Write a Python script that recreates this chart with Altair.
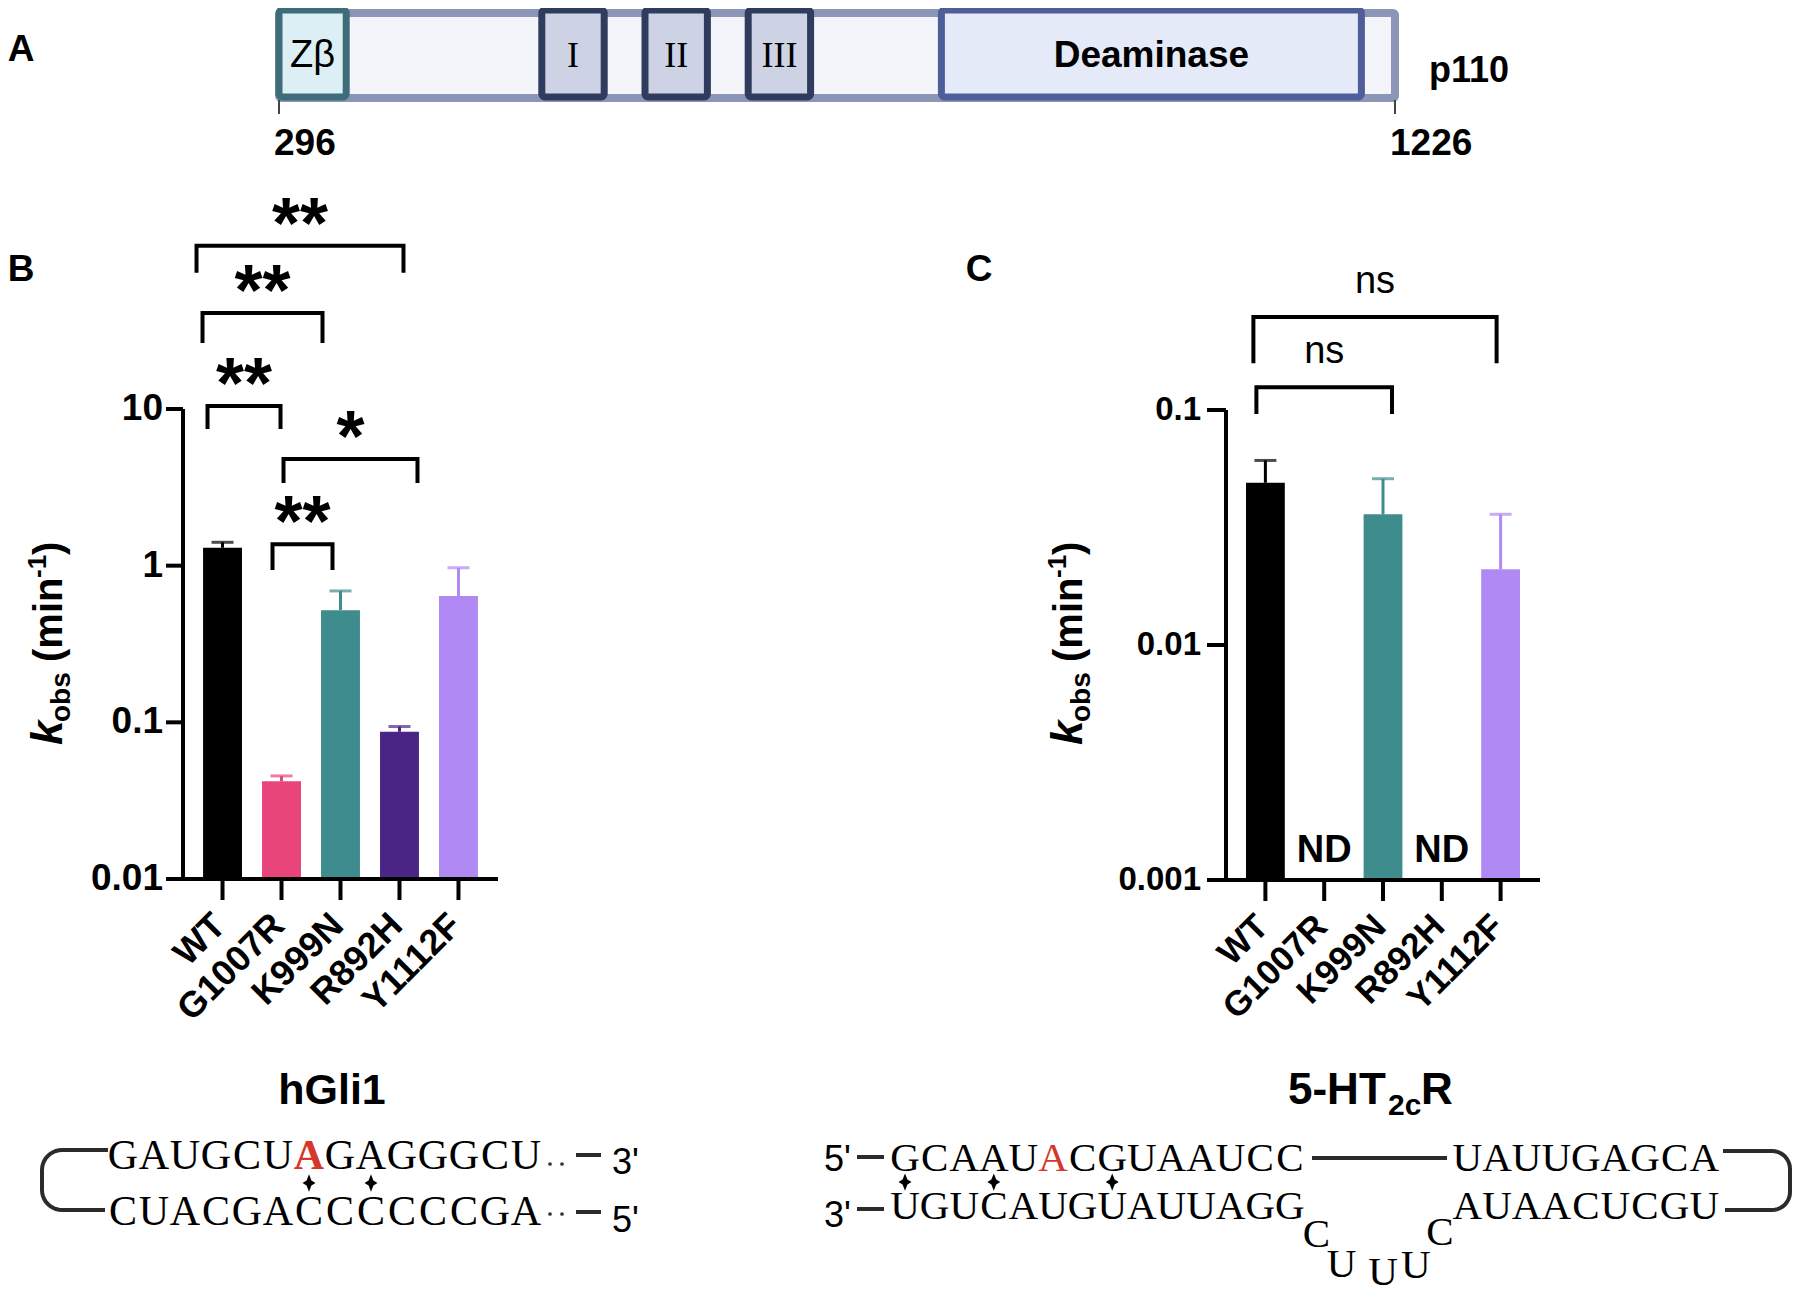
import math
import altair as alt
import pandas as pd

M = 8               # page margin
W, H = 1784, 1288   # drawing area
SANS = "Liberation Sans"
SERIF = "Liberation Serif"
RED = "#d5382b"

# ---------------- data ----------------
cats = ["WT", "G1007R", "K999N", "R892H", "Y1112F"]
palette = ["#000000", "#e8467a", "#3f8c8e", "#4b2585", "#b089f4"]

hgli_mean = [1.30, 0.042, 0.52, 0.087, 0.64]
hgli_upper = [1.41, 0.0455, 0.69, 0.094, 0.97]

htr_mean = [0.049, None, 0.036, None, 0.021]
htr_upper = [0.061, None, 0.051, None, 0.036]

b_ticks = [0.01, 0.1, 1, 10]
b_tick_labels = ["0.01", "0.1", "1", "10"]
c_ticks = [0.001, 0.01, 0.1]
c_tick_labels = ["0.001", "0.01", "0.1"]

# (group a, group b, bracket level, leg end, label)
b_brackets = [
    ("WT", "R892H", 110, 74, "**"),
    ("WT", "K999N", 41, 26.4, "**"),
    ("WT", "G1007R", 10.45, 7.45, "**"),
    ("G1007R", "R892H", 4.8, 3.37, "*"),
    ("G1007R", "K999N", 1.37, 0.94, "**"),
]
c_brackets = [
    ("WT", "Y1112F", 0.249, 0.158, "ns"),
    ("WT", "K999N", 0.125, 0.0962, "ns"),
]
# layout only: horizontal nudges (px) of each bracket's left / right end
b_nudge = [(-26, 4), (-20, -18), (-15, -1), (2, 18), (-9, -8)]
c_nudge = [(-12, -4), (-9, 9)]

protein_span = [296, 1226]
domain_names = ["Zβ", "I", "II", "III", "Deaminase"]
domain_start = [296, 515, 601, 687, 848]
domain_end = [352, 567, 653, 739, 1198]
domain_fill = ["#dbeff5", "#cdd3e5", "#cdd3e5", "#cdd3e5", "#e5eaf8"]
domain_stroke = ["#3e6d79", "#2f3c5d", "#2f3c5d", "#2f3c5d", "#4f5e99"]

gli_top = "GAUGCUAGAGGGCU"
gli_bot = "CUACGACCCCCCGA"
gli_red = 6
gli_pairs = [6, 8]

ht_top_left = "GCAAUACGUAAUCC"
ht_top_right = "UAUUGAGCA"
ht_bot_left = "UGUCAUGUAUUAGG"
ht_bot_right = "AUAACUCGU"
ht_right_col = 19
ht_red = 5
ht_pairs = [0, 3, 7]
ht_loop = "CUUUC"
ht_loop_pos = [(13.9, 1.58), (14.75, 2.21), (16.15, 2.38), (17.26, 2.23), (18.07, 1.54)]


def P(v):
    return v - M


one = pd.DataFrame({"a": [0]})


def label(text, x, y, size, weight="normal", style="normal", font=SANS,
          color="black", align="left", baseline="alphabetic", angle=None):
    kw = dict(text=text, fontSize=size, fontWeight=weight, fontStyle=style,
              font=font, color=color, align=align, baseline=baseline)
    if angle is not None:
        kw["angle"] = angle
    return alt.Chart(one).mark_text(**kw).encode(x=alt.value(P(x)), y=alt.value(P(y)))


PI, PO = 0.34, 0.34


def bar_panel(mean, upper, ticks, tick_labels, brackets, nudges, x0, x1, ybot, ytop,
              ylo, yhi, tick_fs, tick_len, lab_gap, xlab_fs, lab_size, lab_weight, lab_dy):
    n = len(cats)
    xs = alt.Scale(domain=cats, range=[P(x0), P(x1)], paddingInner=PI, paddingOuter=PO)
    ys = alt.Scale(type="log", domain=[ylo, yhi], range=[P(ybot), P(ytop)], nice=False)
    colr = alt.Color("cat:N", scale=alt.Scale(domain=cats, range=palette), legend=None)
    X = alt.X("cat:N", scale=xs, axis=None, sort=cats)

    df = pd.DataFrame({"cat": cats, "mean": mean, "upper": upper}).dropna()
    base = alt.Chart(df)
    bars = base.mark_bar().encode(
        x=X, y=alt.Y("mean:Q", scale=ys, axis=None), y2=alt.datum(ylo), color=colr)
    errs = base.mark_rule(strokeWidth=3).encode(
        x=X, y=alt.Y("mean:Q", scale=ys, axis=None), y2="upper:Q", color=colr)
    caps = base.mark_tick(size=22, thickness=3).encode(
        x=X, y=alt.Y("upper:Q", scale=ys, axis=None), color=colr)

    tdf = pd.DataFrame({"t": ticks, "lab": tick_labels})
    lim = pd.DataFrame({"lo": [ylo], "hi": [yhi]})
    yline = alt.Chart(lim).mark_rule(strokeWidth=4, color="black").encode(
        x=alt.value(P(x0)), y=alt.Y("lo:Q", scale=ys, axis=None), y2="hi:Q")
    yt = alt.Chart(tdf).mark_rule(strokeWidth=4, color="black").encode(
        x=alt.value(P(x0 - tick_len)), x2=alt.value(P(x0)), y=alt.Y("t:Q", scale=ys, axis=None))
    ylab = alt.Chart(tdf).mark_text(align="right", baseline="middle", font=SANS,
                                    fontSize=tick_fs, fontWeight="bold").encode(
        x=alt.value(P(x0 - lab_gap)), y=alt.Y("t:Q", scale=ys, axis=None), text="lab:N")
    xline = alt.Chart(lim).mark_rule(strokeWidth=4, color="black").encode(
        x=alt.value(P(x0 - tick_len)), x2=alt.value(P(x1)), y=alt.Y("lo:Q", scale=ys, axis=None))
    cdf = pd.DataFrame({"cat": cats})
    xt = alt.Chart(cdf).mark_rule(strokeWidth=4, color="black").encode(
        x=X, y=alt.value(P(ybot)), y2=alt.value(P(ybot + 21)))
    xlab = alt.Chart(cdf).mark_text(angle=315, align="right", baseline="middle", font=SANS,
                                    fontSize=xlab_fs, fontWeight="bold", dx=-4).encode(
        x=X, y=alt.value(P(ybot + 38)), text="cat:N")

    layers = [bars, errs, caps, yline, yt, ylab, xline, xt, xlab]
    nd = [c for c, m in zip(cats, mean) if m is None]
    if nd:
        ndf = pd.DataFrame({"cat": nd, "t": ["ND"] * len(nd)})
        layers.append(alt.Chart(ndf).mark_text(font=SANS, fontSize=38, fontWeight="bold",
                                               baseline="middle").encode(
            x=X, y=alt.value(P(ybot - 29)), text="t:N"))
    main = alt.layer(*layers)

    # significance brackets on a category-index scale aligned to band centres
    step = (x1 - x0) / (n - PI + 2 * PO)
    c0 = x0 + PO * step + (1 - PI) * step / 2
    cN = c0 + (n - 1) * step
    xi = alt.Scale(domain=[0, n - 1], range=[P(c0), P(cN)], nice=False, zero=False)
    rows, labs = [], []
    for k, ((a, b, top, leg, txt), (na, nb)) in enumerate(zip(brackets, nudges)):
        ia = cats.index(a) + na / step
        ib = cats.index(b) + nb / step
        for o, (xx, yy) in enumerate([(ia, leg), (ia, top), (ib, top), (ib, leg)]):
            rows.append(dict(id=k, o=o, xi=xx, y=yy))
        labs.append(dict(xi=(ia + ib) / 2, y=top, txt=txt))
    blines = alt.Chart(pd.DataFrame(rows)).mark_line(
        strokeWidth=4, color="black", strokeJoin="miter").encode(
        x=alt.X("xi:Q", scale=xi, axis=None), y=alt.Y("y:Q", scale=ys, axis=None),
        detail="id:N", order="o:Q")
    blabs = alt.Chart(pd.DataFrame(labs)).mark_text(
        align="center", baseline="alphabetic", dy=lab_dy, font=SANS,
        fontSize=lab_size, fontWeight=lab_weight).encode(
        x=alt.X("xi:Q", scale=xi, axis=None), y=alt.Y("y:Q", scale=ys, axis=None),
        text="txt:N")
    br = alt.layer(blines, blabs)
    return alt.layer(main, br).resolve_scale(x="independent")


def y_title(bx):
    return [
        label("k", bx, 745, 44, "bold", "italic", angle=270),
        label("obs", bx + 8, 722, 28, "bold", angle=270),
        label("(min", bx, 662, 40, "bold", angle=270),
        label("-1", bx - 16, 578, 26, "bold", angle=270),
        label(")", bx, 555, 40, "bold", angle=270),
    ]


panel_b = bar_panel(hgli_mean, hgli_upper, b_ticks, b_tick_labels, b_brackets, b_nudge,
                    183, 498, 879, 409, 0.01, 10, 37, 17, 20, 36, 72, "bold", 2)
panel_c = bar_panel(htr_mean, htr_upper, c_ticks, c_tick_labels, c_brackets, c_nudge,
                    1226, 1540, 880, 410, 0.001, 0.1, 33, 19, 25, 35, 38, "normal", -24)

# ---------------- panel A: domain map ----------------
rx = alt.Scale(domain=protein_span, range=[P(279), P(1395)], nice=False, zero=False)
span_df = pd.DataFrame({"s": [protein_span[0]], "e": [protein_span[1]]})
outer = alt.Chart(span_df).mark_rect(fill="#f4f5fb", stroke="#8b96b7", strokeWidth=8,
                                     cornerRadius=2).encode(
    x=alt.X("s:Q", scale=rx, axis=None), x2="e:Q", y=alt.value(P(13)), y2=alt.value(P(98)))
dom_df = pd.DataFrame({"name": domain_names, "s": domain_start, "e": domain_end})
dom_df["mid"] = (dom_df["s"] + dom_df["e"]) / 2
boxes = alt.Chart(dom_df).mark_rect(strokeWidth=7, cornerRadius=3).encode(
    x=alt.X("s:Q", scale=rx, axis=None), x2="e:Q", y=alt.value(P(10)), y2=alt.value(P(97)),
    fill=alt.Fill("name:N", scale=alt.Scale(domain=domain_names, range=domain_fill), legend=None),
    stroke=alt.Stroke("name:N", scale=alt.Scale(domain=domain_names, range=domain_stroke), legend=None))
txt_z = alt.Chart(dom_df[dom_df.name == "Zβ"]).mark_text(font=SANS, fontSize=38, baseline="middle").encode(
    x=alt.X("mid:Q", scale=rx, axis=None), y=alt.value(P(56)), text="name:N")
txt_r = alt.Chart(dom_df[dom_df.name.isin(["I", "II", "III"])]).mark_text(
    font=SERIF, fontSize=36, baseline="middle").encode(
    x=alt.X("mid:Q", scale=rx, axis=None), y=alt.value(P(56)), text="name:N")
txt_d = alt.Chart(dom_df[dom_df.name == "Deaminase"]).mark_text(
    font=SANS, fontSize=37, fontWeight="bold", baseline="middle").encode(
    x=alt.X("mid:Q", scale=rx, axis=None), y=alt.value(P(56)), text="name:N")
end_df = pd.DataFrame({"r": protein_span, "lab": [str(v) for v in protein_span]})
end_ticks = alt.Chart(end_df).mark_rule(strokeWidth=2, color="#444").encode(
    x=alt.X("r:Q", scale=rx, axis=None), y=alt.value(P(100)), y2=alt.value(P(114)))
end_labs = alt.Chart(end_df).mark_text(font=SANS, fontSize=37, fontWeight="bold",
                                       align="left", dx=-5).encode(
    x=alt.X("r:Q", scale=rx, axis=None), y=alt.value(P(144)), text="lab:N")
panel_a = alt.layer(outer, boxes, txt_z, txt_r, txt_d, end_ticks, end_labs)


# ---------------- RNA diagrams ----------------
def letters_df(seq, row, start_col=0, red=None):
    return pd.DataFrame({"col": [start_col + i for i in range(len(seq))],
                         "row": [row] * len(seq), "ch": list(seq),
                         "red": [(i == red) for i in range(len(seq))]})


STAR = "M0,-1L0.28,-0.28L0.75,0L0.28,0.28L0,1L-0.28,0.28L-0.75,0L-0.28,-0.28Z"


def seq_group(df, pairs, pair_row, xdom, xrng, yrng, fs, red_weight):
    sx = alt.Scale(domain=xdom, range=[P(xrng[0]), P(xrng[1])], nice=False, zero=False)
    sy = alt.Scale(domain=[0, 1], range=[P(yrng[0]), P(yrng[1])], nice=False, zero=False)
    X = alt.X("col:Q", scale=sx, axis=None)
    Y = alt.Y("row:Q", scale=sy, axis=None)
    txt = alt.Chart(df[~df.red]).mark_text(font=SERIF, fontSize=fs, align="center",
                                           baseline="alphabetic", color="black").encode(
        x=X, y=Y, text="ch:N")
    rtxt = alt.Chart(df[df.red]).mark_text(font=SERIF, fontSize=fs, align="center",
                                           baseline="alphabetic", color=RED,
                                           fontWeight=red_weight).encode(
        x=X, y=Y, text="ch:N")
    pdf = pd.DataFrame({"col": pairs, "row": [pair_row] * len(pairs)})
    marks = alt.Chart(pdf).mark_point(shape=STAR, filled=True, color="black", size=300,
                                      opacity=1).encode(x=X, y=Y)
    return alt.layer(txt, rtxt, marks)


gli_df = pd.concat([letters_df(gli_top, 0, red=gli_red), letters_df(gli_bot, 1)])
gli = seq_group(gli_df, gli_pairs, 0.25, [0, 13], [123, 526], [1169, 1225], 42, "bold")

ht_df = pd.concat([
    letters_df(ht_top_left, 0, red=ht_red),
    letters_df(ht_top_right, 0, start_col=ht_right_col),
    letters_df(ht_bot_left, 1),
    letters_df(ht_bot_right, 1, start_col=ht_right_col),
    pd.DataFrame({"col": [p[0] for p in ht_loop_pos], "row": [p[1] for p in ht_loop_pos],
                  "ch": list(ht_loop), "red": [False] * len(ht_loop)}),
])
ht = seq_group(ht_df, ht_pairs, 0.23, [0, 27], [905, 905 + 29.6 * 27], [1171, 1219], 41, "normal")

# strokes of the diagrams on a page-pixel canvas
cx = alt.Scale(domain=[M, W + M], range=[0, W], nice=False, zero=False)
cy = alt.Scale(domain=[M, H + M], range=[0, H], nice=False, zero=False)


def bracket_path(pid, x_open, x_side, y_top, y_bot, r, x_open_bot):
    s = 1 if x_open > x_side else -1
    ccx = x_side + s * r
    pts = [(x_open, y_top)]
    for k in range(0, 11):
        t = math.radians(9 * k)
        pts.append((ccx - s * r * math.sin(t), y_top + r - r * math.cos(t)))
    for k in range(0, 11):
        t = math.radians(9 * k)
        pts.append((ccx - s * r * math.cos(t), y_bot - r + r * math.sin(t)))
    pts.append((x_open_bot, y_bot))
    return [dict(id=pid, o=i, x=p[0], y=p[1]) for i, p in enumerate(pts)]


paths = pd.DataFrame(bracket_path(0, 108, 42, 1150, 1210, 20, 105) +
                     bracket_path(1, 1723, 1790, 1151, 1210, 18, 1725))
curves = alt.Chart(paths).mark_line(strokeWidth=4, color="#2b2b2b").encode(
    x=alt.X("x:Q", scale=cx, axis=None), y=alt.Y("y:Q", scale=cy, axis=None),
    detail="id:N", order="o:Q")
dash_df = pd.DataFrame({"x": [576, 576, 857, 857, 1312], "x2": [601, 601, 884, 884, 1447],
                        "y": [1155, 1212, 1157, 1209, 1158]})
dashes = alt.Chart(dash_df).mark_rule(strokeWidth=4, color="#2b2b2b").encode(
    x=alt.X("x:Q", scale=cx, axis=None), x2="x2:Q", y=alt.Y("y:Q", scale=cy, axis=None))
dot_df = pd.DataFrame({"x": [550, 562, 550, 562], "y": [1164, 1164, 1214, 1214]})
dots = alt.Chart(dot_df).mark_circle(size=14, color="#333", opacity=1).encode(
    x=alt.X("x:Q", scale=cx, axis=None), y=alt.Y("y:Q", scale=cy, axis=None))
canvas = alt.layer(curves, dashes, dots)

texts = [
    label("A", 21, 61, 37, "bold", align="center"),
    label("B", 21, 281, 37, "bold", align="center"),
    label("C", 979, 281, 37, "bold", align="center"),
    label("p110", 1429, 82, 36, "bold"),
    label("hGli1", 332, 1104, 43, "bold", align="center"),
    label("5-HT", 1288, 1104, 44, "bold"),
    label("2c", 1388, 1115, 30, "bold"),
    label("R", 1421, 1104, 44, "bold"),
    label("3'", 612, 1174, 36),
    label("5'", 612, 1232, 36),
    label("5'", 824, 1171, 36),
    label("3'", 824, 1227, 36),
] + y_title(62) + y_title(1082)

chart = alt.layer(panel_a, panel_b, panel_c, gli, ht, canvas, *texts).resolve_scale(
    x="independent", y="independent", color="independent",
    fill="independent", stroke="independent"
).properties(
    width=W, height=H, autosize=alt.AutoSizeParams(type="none"), padding=0
).configure_view(stroke=None)

chart.save("out.html", embed_options={"renderer": "svg", "actions": False})
